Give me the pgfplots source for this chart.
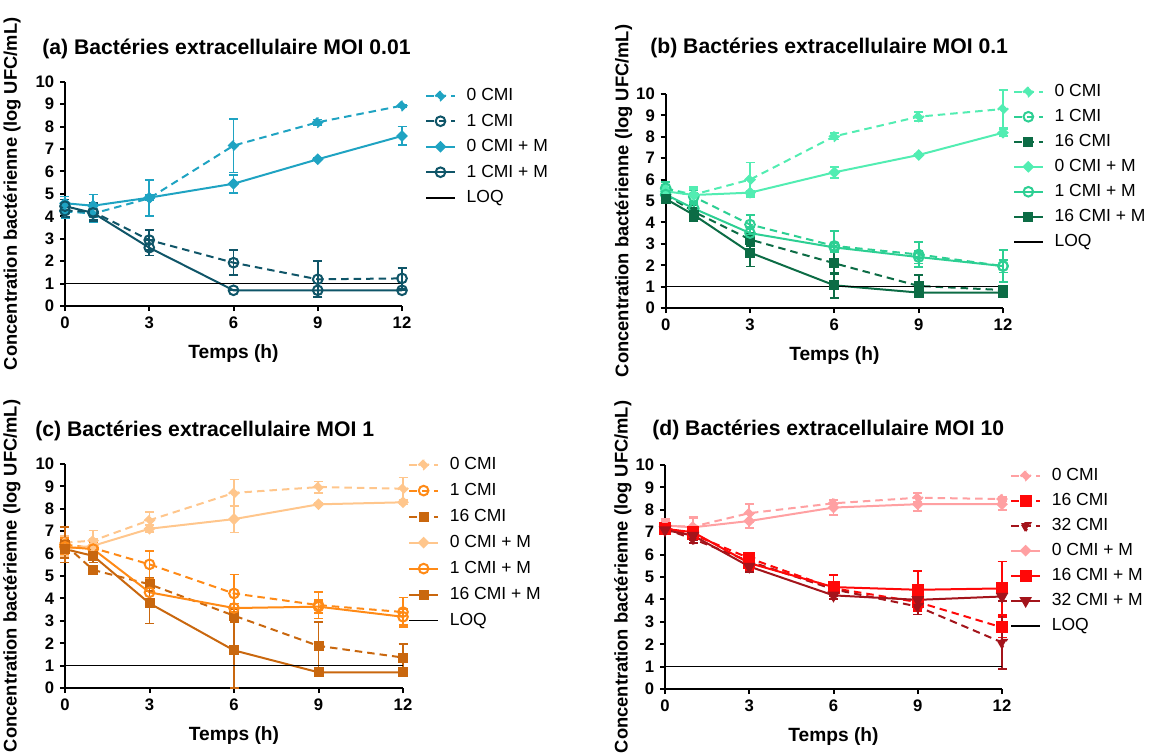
\documentclass[border=0pt]{standalone}
\usepackage{pgfplots}
\pgfplotsset{compat=1.18}
\usepackage{fontspec}
\setmainfont{Liberation Sans}
\definecolor{cA0}{HTML}{1FA3C2}
\definecolor{cA1}{HTML}{0F5568}
\definecolor{cB0}{HTML}{52EDB2}
\definecolor{cB1}{HTML}{2DCF93}
\definecolor{cB16}{HTML}{0C6C45}
\definecolor{cC0}{HTML}{FFC68C}
\definecolor{cC1}{HTML}{FF8A16}
\definecolor{cC16}{HTML}{C9670E}
\definecolor{cD0}{HTML}{FFA0A2}
\definecolor{cD16}{HTML}{FF0808}
\definecolor{cD32}{HTML}{A3141B}
\tikzset{ttl/.style={anchor=base west, font=\bfseries\fontsize{12.7}{14}\selectfont, inner sep=0pt}}
\pgfplotsset{
  panel/.style={scale only axis, xmin=0, xmax=12, ymin=0, ymax=10,
    axis x line*=bottom, axis y line*=left,
    axis line style={line width=1.2pt,-}, tick align=outside, major tick length=3pt,
    tick style={line width=1.2pt, black},
    xtick={0,3,6,9,12}, ytick={0,1,...,10}, minor tick num=0,
    ticklabel style={font=\bfseries\fontsize{10}{10}\selectfont},
    /pgf/number format/assume math mode=true,
    xlabel={Temps (h)},
    xlabel style={at={(axis description cs:0.5,0)}, anchor=base, yshift=-31.5pt, font=\bfseries\fontsize{11.5}{12}\selectfont},
    ylabel={Concentration bactérienne (log UFC/mL)},
    ylabel style={rotate=0, anchor=center, font=\bfseries\fontsize{11}{12}\selectfont},
    clip=false, legend cell align=left,
    legend style={draw=none, fill=none, anchor=north west, font=\fontsize{10.5}{12}\selectfont,
      row sep=5pt, column sep=6.6pt, inner sep=0pt, nodes={inner sep=0pt, text height=8pt, text depth=2pt}},
  },
  ser/.style={line width=1.2pt, mark options={solid, line width=1.2pt},
    error bars/y dir=both, error bars/y explicit,
    error bars/error bar style={solid, line width=1.1pt},
    error bars/error mark options={solid, line width=1.1pt, mark size=2.7pt, rotate=90}},
  dsh/.style={dash pattern=on 4.5pt off 3pt},
  dia/.style={mark=square*, mark size=1.9pt, mark options={rotate=45}},
  cir/.style={mark=o, mark size=2.9pt},
  sqr/.style={mark=square*, mark size=2.4pt},
  tri/.style={mark=triangle*, mark size=3.2pt, mark options={rotate=180}},
  loq/.style={black, line width=1pt, mark=none},
}
\begin{document}
\begin{tikzpicture}
\useasboundingbox (0,0) rectangle (690pt,-451.8pt);
\node[ttl] at (25.2pt,-32.6pt) {(a) Bactéries extracellulaire MOI 0.01};
\node[ttl] at (390pt,-32.4pt) {(b) Bactéries extracellulaire MOI 0.1};
\node[ttl] at (21pt,-261.6pt) {(c) Bactéries extracellulaire MOI 1};
\node[ttl] at (391.2pt,-261.4pt) {(d) Bactéries extracellulaire MOI 10};

% ---------------- (a)
\begin{axis}[panel, at={(39pt,-183.6pt)}, anchor=south west, width=202.2pt, height=134.6pt,
  ylabel style={at={(axis description cs:-0.157,0.5)}},
  legend style={at={(axis description cs:1.068,0.976)}, row sep=5.3pt}]
\addplot[cA0, ser, dsh, dia] table[x=t,y=m,y error=e] {
t m e
0 4.22 0.3
1 4.12 0.4
3 4.80 0.8
6 7.15 1.2
9 8.19 0.12
12 8.93 0.05
};
\addlegendentry{0 CMI}
\addplot[cA1, ser, dsh, cir] table[x=t,y=m,y error=e] {
t m e
0 4.25 0.3
1 4.20 0.4
3 2.94 0.45
6 1.93 0.55
9 1.19 0.8
12 1.23 0.45
};
\addlegendentry{1 CMI}
\addplot[cA0, ser, dia] table[x=t,y=m,y error=e] {
t m e
0 4.58 0.3
1 4.47 0.5
3 4.83 0.1
6 5.45 0.4
9 6.54 0.05
12 7.58 0.42
};
\addlegendentry{0 CMI + M}
\addplot[cA1, ser, cir] table[x=t,y=m,y error=e] {
t m e
0 4.45 0.3
1 4.15 0.3
3 2.60 0.35
6 0.70 0
9 0.70 0.3
12 0.70 0
};
\addlegendentry{1 CMI + M}
\addplot[loq] coordinates {(0,1) (12,1)};
\addlegendentry{LOQ}
\end{axis}

% ---------------- (b)
\begin{axis}[panel, at={(399.4pt,-184.8pt)}, anchor=south west, width=202.4pt, height=128.4pt,
  ylabel style={at={(axis description cs:-0.125,0.5)}},
  legend style={at={(axis description cs:1.029,1.051)}}]
\addplot[cB0, ser, dsh, dia] table[x=t,y=m,y error=e] {
t m e
0 5.59 0.3
1 5.30 0.35
3 6.00 0.8
6 8.02 0.15
9 8.94 0.2
12 9.30 0.9
};
\addlegendentry{0 CMI}
\addplot[cB1, ser, dsh, cir] table[x=t,y=m,y error=e] {
t m e
0 5.60 0.3
1 5.20 0.3
3 3.90 0.45
6 2.90 0.7
9 2.50 0.6
12 1.96 0.75
};
\addlegendentry{1 CMI}
\addplot[cB16, ser, dsh, sqr] table[x=t,y=m,y error=e] {
t m e
0 5.30 0.3
1 4.50 0.3
3 3.20 0.3
6 2.09 0.5
9 1.03 0.5
12 0.84 0.1
};
\addlegendentry{16 CMI}
\addplot[cB0, ser, dia] table[x=t,y=m,y error=e] {
t m e
0 5.45 0.3
1 5.28 0.3
3 5.39 0.1
6 6.34 0.25
9 7.15 0.05
12 8.19 0.15
};
\addlegendentry{0 CMI + M}
\addplot[cB1, ser, cir] table[x=t,y=m,y error=e] {
t m e
0 5.30 0.3
1 4.65 0.3
3 3.50 0.3
6 2.83 0.2
9 2.38 0.3
12 1.96 0.3
};
\addlegendentry{1 CMI + M}
\addplot[cB16, ser, sqr] table[x=t,y=m,y error=e] {
t m e
0 5.10 0.2
1 4.35 0.3
3 2.59 0.65
6 1.06 0.6
9 0.72 0.1
12 0.72 0.05
};
\addlegendentry{16 CMI + M}
\addplot[loq] coordinates {(0,1) (12,1)};
\addlegendentry{LOQ}
\end{axis}

% ---------------- (c)
\begin{axis}[panel, at={(39pt,-412.8pt)}, anchor=south west, width=202.8pt, height=134.4pt,
  ylabel style={at={(axis description cs:-0.157,0.5)}},
  legend style={at={(axis description cs:1.015,1.036)}, row sep=5.6pt}]
\addplot[cC0, ser, dsh, dia] table[x=t,y=m,y error=e] {
t m e
0 6.49 0.3
1 6.58 0.45
3 7.49 0.35
6 8.71 0.6
9 8.97 0.25
12 8.90 0.5
};
\addlegendentry{0 CMI}
\addplot[cC1, ser, dsh, cir] table[x=t,y=m,y error=e] {
t m e
0 6.40 0.3
1 6.25 0.3
3 5.52 0.6
6 4.22 0.85
9 3.70 0.6
12 3.39 0.65
};
\addlegendentry{1 CMI}
\addplot[cC16, ser, dsh, sqr] table[x=t,y=m,y error=e] {
t m e
0 6.40 0.8
1 5.27 0.2
3 4.63 0.3
6 3.23 0.3
9 1.88 1.05
12 1.36 0.6
};
\addlegendentry{16 CMI}
\addplot[cC0, ser, dia] table[x=t,y=m,y error=e] {
t m e
0 6.20 0.3
1 6.35 0.3
3 7.11 0.15
6 7.54 0.6
9 8.20 0.05
12 8.29 0.1
};
\addlegendentry{0 CMI + M}
\addplot[cC1, ser, cir] table[x=t,y=m,y error=e] {
t m e
0 6.30 0.3
1 6.20 0.3
3 4.27 0.3
6 3.57 0.2
9 3.63 0.3
12 3.18 0.35
};
\addlegendentry{1 CMI + M}
\addplot[cC16, ser, sqr] table[x=t,y=m,y error=e] {
t m e
0 6.20 0.4
1 5.90 0.3
3 3.78 0.9
6 1.68 1.68
9 0.70 0
12 0.70 0
};
\addlegendentry{16 CMI + M}
\addplot[loq] coordinates {(0,1) (12,1)};
\addlegendentry{LOQ}
\end{axis}

% ---------------- (d)
\begin{axis}[panel, at={(399pt,-413.4pt)}, anchor=south west, width=202.2pt, height=134.4pt,
  ylabel style={at={(axis description cs:-0.125,0.5)}},
  legend style={at={(axis description cs:1.024,0.991)}}]
\addplot[cD0, ser, dsh, dia] table[x=t,y=m,y error=e] {
t m e
0 7.28 0.3
1 7.25 0.4
3 7.85 0.4
6 8.29 0.15
9 8.54 0.2
12 8.48 0.1
};
\addlegendentry{0 CMI}
\addplot[cD16, ser, dsh, sqr, mark size=3pt] table[x=t,y=m,y error=e] {
t m e
0 7.20 0.2
1 6.90 0.2
3 5.84 0.2
6 4.50 0.3
9 3.88 0.4
12 2.75 0.45
};
\addlegendentry{16 CMI}
\addplot[cD32, ser, dsh, tri] table[x=t,y=m,y error=e] {
t m e
0 7.15 0.2
1 6.70 0.2
3 5.70 0.2
6 4.45 0.3
9 3.68 0.35
12 2.08 1.2
};
\addlegendentry{32 CMI}
\addplot[cD0, ser, dia] table[x=t,y=m,y error=e] {
t m e
0 7.30 0.2
1 7.22 0.45
3 7.50 0.3
6 8.10 0.35
9 8.25 0.3
12 8.25 0.25
};
\addlegendentry{0 CMI + M}
\addplot[cD16, ser, sqr, mark size=3pt] table[x=t,y=m,y error=e] {
t m e
0 7.15 0.2
1 7.00 0.2
3 5.62 0.3
6 4.55 0.55
9 4.43 0.85
12 4.49 1.2
};
\addlegendentry{16 CMI + M}
\addplot[cD32, ser, tri] table[x=t,y=m,y error=e] {
t m e
0 7.10 0.2
1 6.85 0.2
3 5.47 0.25
6 4.18 0.15
9 3.98 0.2
12 4.13 0.2
};
\addlegendentry{32 CMI + M}
\addplot[loq] coordinates {(0,1) (12,1)};
\addlegendentry{LOQ}
\end{axis}
\end{tikzpicture}
\end{document}
